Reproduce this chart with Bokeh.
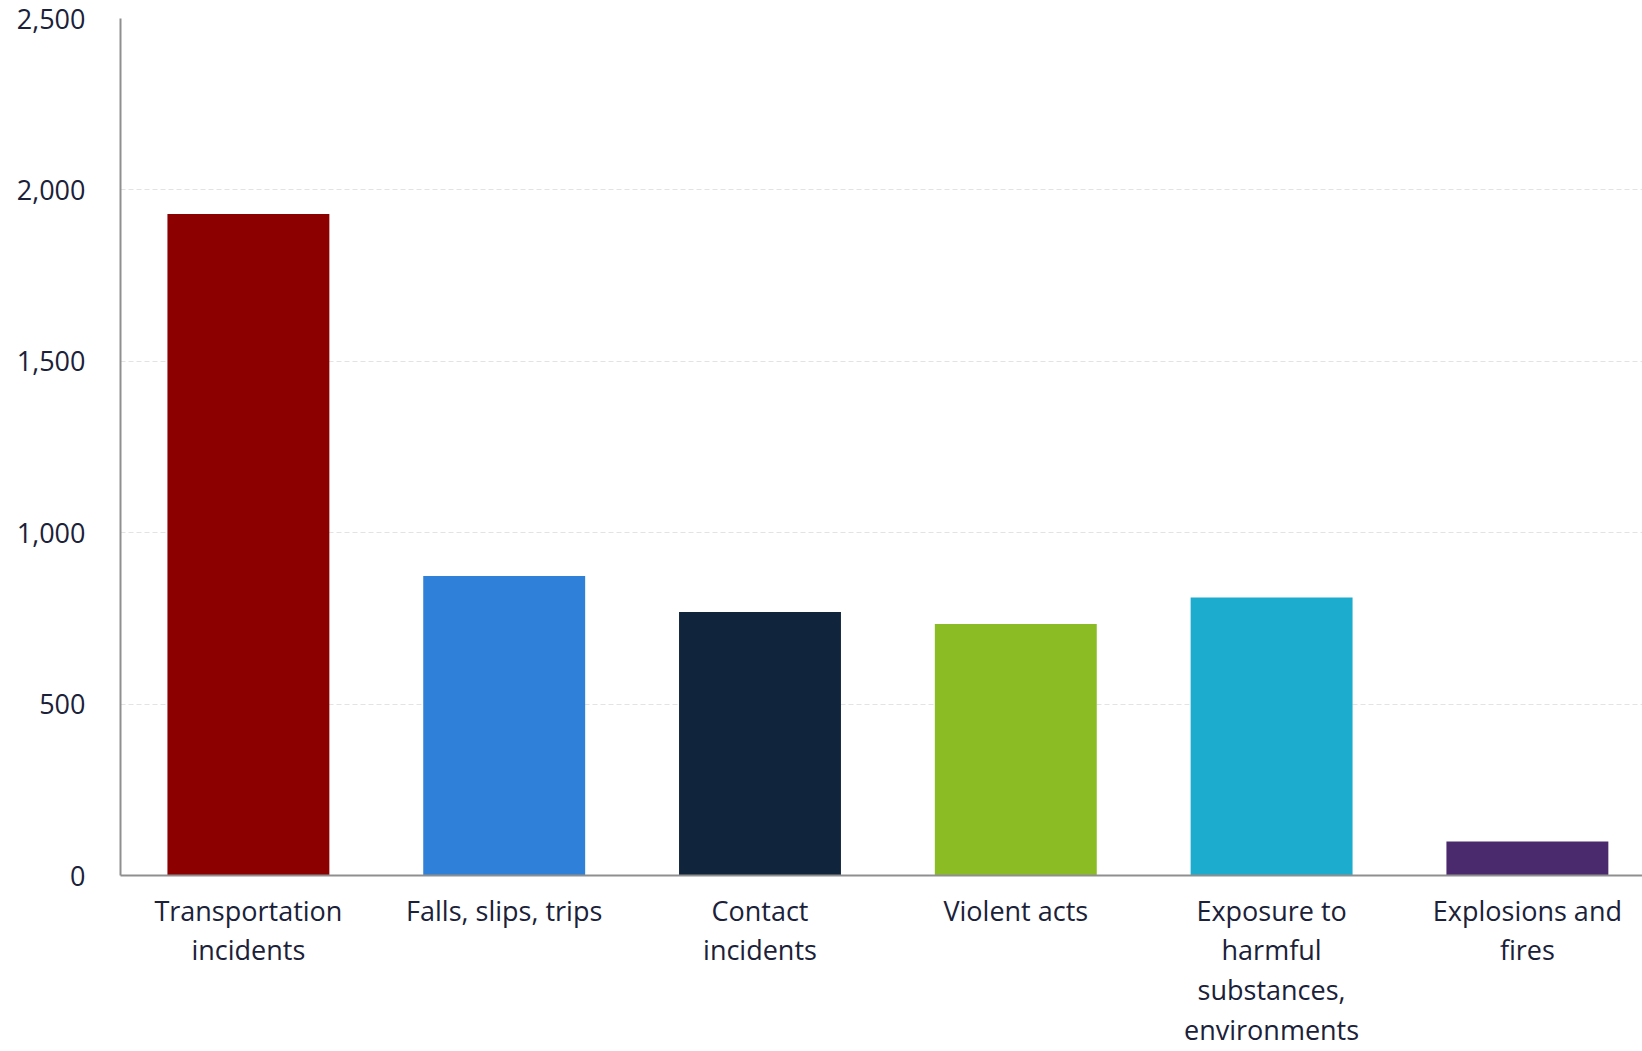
from bokeh.plotting import figure
from bokeh.models import ColumnDataSource, FixedTicker, Range1d, NumeralTickFormatter
from bokeh.embed import file_html
from bokeh.resources import INLINE

categories = ["Transportation incidents", "Falls, slips, trips", "Contact incidents",
              "Violent acts", "Exposure to harmful substances, environments", "Explosions and fires"]
category_labels = ["Transportation\nincidents", "Falls, slips, trips", "Contact\nincidents",
                   "Violent acts", "Exposure to\nharmful\nsubstances,\nenvironments", "Explosions and\nfires"]
fatalities = [1930, 874, 769, 734, 811, 99]
y_ticks = [0, 500, 1000, 1500, 2000, 2500]

palette = ["#8c0000", "#2f80d8", "#10243b", "#8bbc23", "#1bacce", "#4a2a6c"]

positions = list(range(len(categories)))
source = ColumnDataSource(dict(x=positions, value=fatalities, color=palette, category=categories))

TEXT = "#1a2138"
FONT = "Open Sans"

p = figure(width=1642, height=1051, output_backend="svg", toolbar_location=None,
           x_range=Range1d(-0.5, 5.45), y_range=Range1d(0, 2500),
           min_border_left=120, min_border_right=0, min_border_top=18, min_border_bottom=172)

p.vbar(x="x", top="value", width=0.633, fill_color="color", line_color=None, source=source)

p.outline_line_color = None
p.background_fill_color = "white"
p.border_fill_color = "white"

p.xgrid.grid_line_color = None
p.ygrid.grid_line_color = "#e3e3e3"
p.ygrid.grid_line_dash = "5 3"
p.ygrid.grid_line_width = 1
p.yaxis.ticker = FixedTicker(ticks=y_ticks)
p.yaxis.formatter = NumeralTickFormatter(format="0,0")

p.xaxis.ticker = FixedTicker(ticks=positions)
p.xaxis.major_label_overrides = {i: lab for i, lab in zip(positions, category_labels)}

for ax in (p.xaxis[0], p.yaxis[0]):
    ax.axis_line_color = "#8f8f8f"
    ax.axis_line_width = 2
    ax.major_tick_line_color = None
    ax.minor_tick_line_color = None
    ax.major_label_text_font = FONT
    ax.major_label_text_font_size = "27px"
    ax.major_label_text_color = TEXT

p.xaxis.major_label_standoff = 10
p.xaxis.major_label_text_line_height = 1.08
p.yaxis.major_label_standoff = 29

open("out.html", "w").write(file_html(p, INLINE))
